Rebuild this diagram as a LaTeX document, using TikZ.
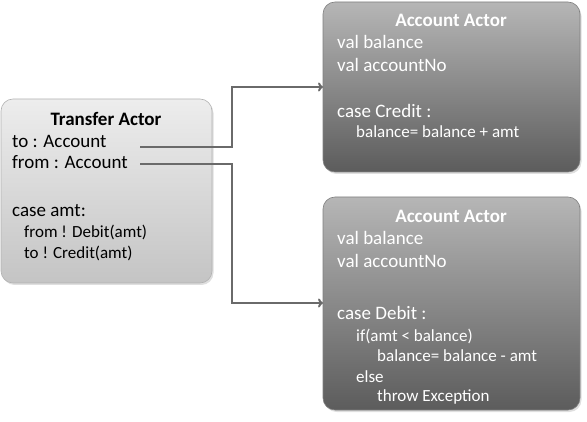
\documentclass[tikz,border=0pt]{standalone}
\usepackage{fontspec}
\setmainfont{Carlito}
\usetikzlibrary{arrows.meta,shadows}
\definecolor{lighttop}{HTML}{EDEDED}
\definecolor{lightbot}{HTML}{C4C4C4}
\definecolor{darktop}{HTML}{B6B6B6}
\definecolor{darkbot}{HTML}{5C5C5C}
\definecolor{linegray}{HTML}{6A6A6A}
\tikzset{
  x=1pt, y=-1pt,
  lightbox/.style={draw=black!30, line width=0.6pt, rounded corners=12pt,
    top color=lighttop, bottom color=lightbot,
    drop shadow={opacity=0.25, shadow xshift=1.5pt, shadow yshift=-2pt}},
  darkbox/.style={draw=black!50, line width=0.6pt, rounded corners=12pt,
    top color=darktop, bottom color=darkbot,
    drop shadow={opacity=0.25, shadow xshift=1.5pt, shadow yshift=-2pt}},
  big/.style={inner sep=0pt, anchor=base west, font=\fontsize{19}{22}\selectfont},
  small/.style={inner sep=0pt, anchor=base west, font=\fontsize{17}{20}\selectfont},
  title/.style={inner sep=0pt, anchor=base, font=\fontsize{19}{22}\selectfont\bfseries},
  wtext/.style={text=white},
  conn/.style={draw=linegray, line width=2pt, -{To[length=5pt,width=9pt]}}
}
\begin{document}
\begin{tikzpicture}
\useasboundingbox (0,0) rectangle (587,422);
% boxes
\path[lightbox] (1,99) rectangle (212,283);
\path[darkbox] (323,2) rectangle (580,172);
\path[darkbox] (323,197) rectangle (580,410);
\coordinate (acc1) at (323,87);
\coordinate (acc2) at (323,303);
% transfer actor text
\node[title] (tt) at (106,126) {Transfer Actor};
\node[big] (tto) at (12,148) {to : Account};
\node[big] (tfrom) at (12,169) {from : Account};
\node[big] (tcase) at (12,217) {case amt:};
\node[small] (tdeb) at (24,238) {from ! Debit(amt)};
\node[small] (tcred) at (24,259) {to ! Credit(amt)};
% account actor 1
\node[title,wtext] (a1t) at (451,27) {Account Actor};
\node[big,wtext] (a1b) at (337,49) {val balance};
\node[big,wtext] (a1n) at (337,72) {val accountNo};
\node[big,wtext] (a1c) at (337,118) {case Credit :};
\node[small,wtext] (a1e) at (356,138) {balance= balance + amt};
% account actor 2
\node[title,wtext] (a2t) at (451,223) {Account Actor};
\node[big,wtext] (a2b) at (337,245) {val balance};
\node[big,wtext] (a2n) at (337,268) {val accountNo};
\node[big,wtext] (a2c) at (337,320) {case Debit :};
\node[small,wtext] (a2i) at (356,342) {if(amt < balance)};
\node[small,wtext] (a2e) at (377,362) {balance= balance - amt};
\node[small,wtext] (a2l) at (356,382) {else};
\node[small,wtext] (a2x) at (377,401) {throw Exception};
% connectors
\coordinate (s1) at (140,147);
\coordinate (s2) at (140,164);
\draw[conn] (s1) -- (232,147) -- (232,87) -- (acc1);
\draw[conn] (s2) -- (232,164) -- (232,303) -- (acc2);
\end{tikzpicture}
\end{document}
